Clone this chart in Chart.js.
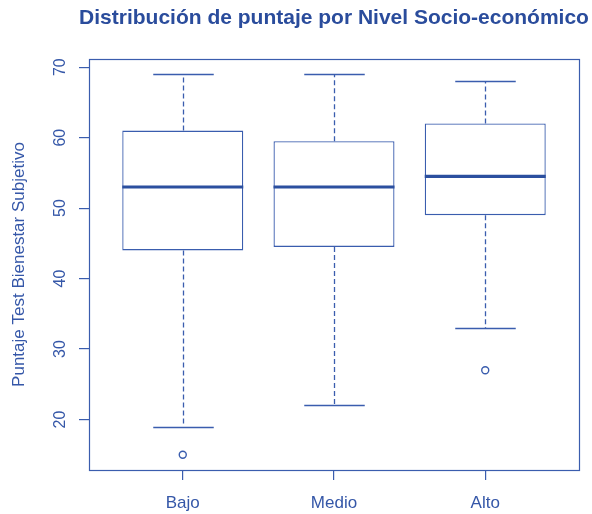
<!DOCTYPE html>
<html>
<head>
<meta charset="utf-8">
<script src="https://cdn.jsdelivr.net/npm/chart.js@4.4.1/dist/chart.umd.min.js"></script>
<style>
  html, body { margin: 0; padding: 0; background: #ffffff; }
  canvas { display: block; }
</style>
</head>
<body>
<canvas id="chart" width="592" height="514"></canvas>
<script>
// Five-number summaries per socio-economic level
const categories   = ['Bajo', 'Medio', 'Alto'];
const lowerWhisker = [19, 22, 33];
const q1           = [44, 44.5, 49];
const median       = [53, 53, 54.5];
const q3           = [61, 59.5, 62];
const upperWhisker = [69, 69, 68];
// Outliers: group position (1-based) and value
const outlierGroup = [1, 3];
const outlierValue = [15, 27];
const yTicks = [20, 30, 40, 50, 60, 70];
const chartTitle = 'Distribución de puntaje por Nivel Socio-económico';

const LINE = '#3a5dae';
const MEDIAN = '#2b4f9f';
const TEXT = '#3557a8';
const FONT = '"Liberation Sans", Arial, Helvetica, sans-serif';

// Axis ranges padded by 4% like classic boxplot defaults
const allVals = lowerWhisker.concat(upperWhisker, outlierValue);
const dMin = Math.min(...allVals), dMax = Math.max(...allVals);
const yPad = (dMax - dMin) * 0.04;
const xPad = categories.length * 0.04;

const boxPlugin = {
  id: 'boxWhiskers',
  afterDatasetsDraw(chart) {
    const { ctx, scales: { x, y } } = chart;
    const bars = chart.getDatasetMeta(0).data;
    ctx.save();
    categories.forEach((c, i) => {
      const cx = Math.round(x.getPixelForValue(i + 1)) + 0.5;
      const capHalf = x.getPixelForValue(i + 1.2) - x.getPixelForValue(i + 1);
      const yq1 = y.getPixelForValue(q1[i]);
      const yq3 = y.getPixelForValue(q3[i]);
      const ylo = y.getPixelForValue(lowerWhisker[i]);
      const yhi = y.getPixelForValue(upperWhisker[i]);
      // dashed whiskers
      ctx.strokeStyle = LINE;
      ctx.lineWidth = 1.3;
      ctx.setLineDash([5, 3]);
      ctx.beginPath();
      ctx.moveTo(cx, yq3);
      ctx.lineTo(cx, yhi);
      ctx.moveTo(cx, yq1);
      ctx.lineTo(cx, ylo);
      ctx.stroke();
      // caps
      ctx.setLineDash([]);
      ctx.beginPath();
      ctx.moveTo(cx - capHalf, Math.round(yhi) + 0.5);
      ctx.lineTo(cx + capHalf, Math.round(yhi) + 0.5);
      ctx.moveTo(cx - capHalf, Math.round(ylo) + 0.5);
      ctx.lineTo(cx + capHalf, Math.round(ylo) + 0.5);
      ctx.stroke();
      // median
      const b = bars[i];
      const ym = y.getPixelForValue(median[i]);
      ctx.strokeStyle = MEDIAN;
      ctx.lineWidth = 3.2;
      ctx.beginPath();
      ctx.moveTo(b.x - b.width / 2, ym);
      ctx.lineTo(b.x + b.width / 2, ym);
      ctx.stroke();
    });
    // plot frame
    const a = chart.chartArea;
    ctx.strokeStyle = LINE;
    ctx.lineWidth = 1.2;
    ctx.strokeRect(Math.round(a.left) + 0.5, Math.round(a.top) + 0.5,
                   Math.round(a.right - a.left), Math.round(a.bottom - a.top));
    // main title, centred over the plotting region
    ctx.fillStyle = '#2a4c9c';
    ctx.font = 'bold 21px ' + FONT;
    ctx.textAlign = 'center';
    ctx.textBaseline = 'middle';
    ctx.fillText(chartTitle, (a.left + a.right) / 2, 18);
    ctx.restore();
  }
};

new Chart(document.getElementById('chart'), {
  data: {
    datasets: [
      {
        type: 'bar',
        data: categories.map((c, i) => ({ x: i + 1, y: [q1[i], q3[i]] })),
        backgroundColor: '#ffffff',
        borderColor: LINE,
        borderWidth: 1.3,
        borderSkipped: false,
        barPercentage: 0.8,
        categoryPercentage: 1
      },
      {
        type: 'scatter',
        data: outlierGroup.map((g, i) => ({ x: g, y: outlierValue[i] })),
        pointStyle: 'circle',
        pointRadius: 3.5,
        backgroundColor: 'rgba(0,0,0,0)',
        borderColor: LINE,
        borderWidth: 1.4
      }
    ]
  },
  options: {
    responsive: false,
    animation: false,
    devicePixelRatio: 1,
    layout: { padding: { left: 0, right: 13, top: 59, bottom: 0 } },
    plugins: {
      legend: { display: false },
      tooltip: { enabled: false },
      title: { display: false }
    },
    scales: {
      x: {
        type: 'linear',
        position: 'bottom',
        offset: false,
        min: 1 - 0.5 - xPad,
        max: categories.length + 0.5 + xPad,
        afterBuildTicks: s => { s.ticks = categories.map((c, i) => ({ value: i + 1 })); },
        afterFit: s => { s.height = 44; },
        ticks: {
          callback: v => categories[Math.round(v) - 1],
          color: TEXT,
          font: { family: FONT, size: 17 },
          padding: 13,
          autoSkip: false,
          maxRotation: 0
        },
        grid: { offset: false, drawOnChartArea: false, drawTicks: true, tickLength: 10, color: LINE, lineWidth: 1.2 },
        border: { display: false }
      },
      y: {
        type: 'linear',
        position: 'left',
        min: dMin - yPad,
        max: dMax + yPad,
        afterBuildTicks: s => { s.ticks = yTicks.map(v => ({ value: v })); },
        afterFit: s => { s.width = 89; },
        ticks: {
          color: TEXT,
          font: { family: FONT, size: 16 },
          minRotation: 90,
          maxRotation: 90,
          crossAlign: 'center',
          padding: 10
        },
        grid: { drawOnChartArea: false, drawTicks: true, tickLength: 10, color: LINE, lineWidth: 1.2 },
        border: { display: false },
        title: {
          display: true,
          text: 'Puntaje Test Bienestar Subjetivo',
          color: TEXT,
          font: { family: FONT, size: 17 },
          padding: { top: 9, bottom: 0 }
        }
      }
    }
  },
  plugins: [boxPlugin]
});
</script>
</body>
</html>
